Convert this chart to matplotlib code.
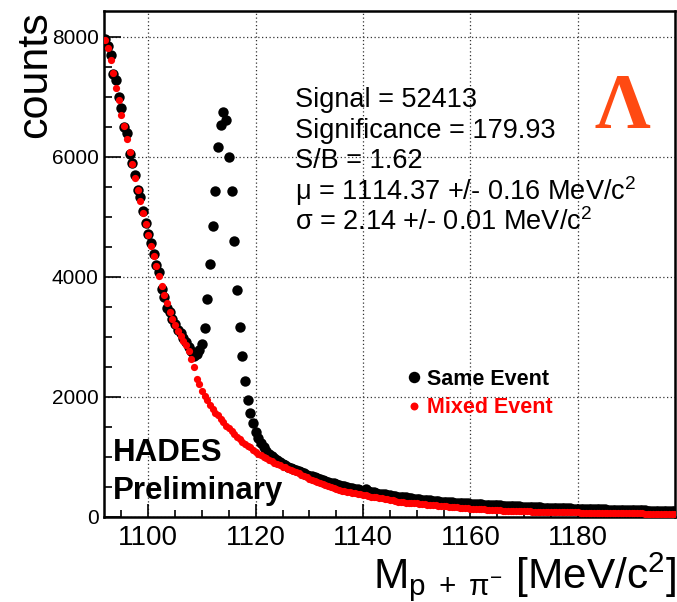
import numpy as np
import matplotlib
matplotlib.use("Agg")
import matplotlib.pyplot as plt
from matplotlib.ticker import MultipleLocator

plt.rcParams['font.family'] = ['Liberation Sans', 'DejaVu Sans']
plt.rcParams['mathtext.fontset'] = 'custom'
plt.rcParams['mathtext.rm'] = 'Liberation Sans'
plt.rcParams['mathtext.it'] = 'Liberation Sans:italic'
plt.rcParams['mathtext.bf'] = 'Liberation Sans:bold'

# invariant mass bins (MeV/c^2), 0.5 MeV wide, first bin centre at 1092
mass_lo = 1092.0
bin_width = 0.5

# p pi- pairs from the same event
same_event = [
    7960, 7850, 7700, 7380, 7280, 7000, 6820, 6500, 6400, 6050,
    5900, 5700, 5450, 5330, 5100, 4900, 4720, 4560, 4380, 4200,
    4080, 3800, 3660, 3480, 3420, 3300, 3220, 3120, 3060, 2980,
    2910, 2840, 2760, 2690, 2720, 2780, 2880, 3150, 3640, 4220,
    4850, 5430, 6160, 6540, 6750, 6620, 6000, 5430, 4600, 3780,
    3160, 2680, 2260, 1950, 1740, 1570, 1420, 1320, 1230, 1160,
    1100, 1050, 1010, 975, 945, 915, 890, 860, 840, 820,
    800, 780, 760, 745, 725, 705, 690, 675, 660, 650,
    630, 615, 605, 585, 570, 560, 545, 535, 520, 515,
    500, 490, 480, 470, 460, 450, 440, 460, 425, 415,
    410, 400, 390, 385, 380, 370, 360, 355, 350, 340,
    335, 330, 325, 318, 310, 305, 300, 296, 290, 286,
    280, 276, 272, 268, 262, 258, 255, 252, 248, 244,
    240, 238, 234, 230, 228, 225, 222, 218, 215, 213,
    210, 207, 204, 202, 199, 197, 194, 192, 190, 187,
    185, 183, 180, 178, 176, 174, 171, 169, 167, 166,
    164, 162, 160, 158, 157, 155, 153, 152, 150, 149,
    147, 158, 145, 143, 141, 140, 138, 137, 136, 134,
    133, 131, 130, 129, 127, 126, 125, 124, 122, 121,
    120, 119, 118, 117, 116, 115, 114, 113, 112, 111,
    110, 109, 108, 107, 106, 105, 104, 103, 102, 101,
    100, 99, 98,
]

# combinatorial background from event mixing
mixed_event = [
    7950, 7820, 7620, 7400, 7150, 6950, 6700, 6520, 6300, 6080,
    5880, 5650, 5450, 5260, 5060, 4880, 4700, 4520, 4350, 4180,
    4020, 3850, 3700, 3560, 3420, 3300, 3200, 3100, 3020, 2940,
    2860, 2760, 2640, 2500, 2300, 2220, 2100, 2020, 1950, 1870,
    1800, 1740, 1700, 1640, 1580, 1520, 1480, 1430, 1380, 1340,
    1300, 1250, 1220, 1180, 1160, 1120, 1080, 1055, 1030, 1000,
    975, 950, 925, 905, 880, 860, 840, 825, 800, 780,
    760, 745, 725, 705, 680, 660, 640, 615, 595, 580,
    565, 550, 535, 515, 500, 485, 470, 455, 440, 430,
    420, 415, 405, 395, 385, 375, 365, 360, 350, 340,
    335, 325, 315, 310, 305, 295, 285, 275, 265, 255,
    250, 245, 240, 235, 230, 228, 225, 220, 215, 210,
    205, 200, 196, 192, 188, 184, 180, 176, 172, 168,
    164, 160, 156, 152, 148, 144, 140, 137, 134, 131,
    128, 125, 122, 119, 117, 115, 113, 110, 108, 106,
    104, 102, 100, 98, 97, 95, 94, 93, 92, 90,
    89, 88, 87, 86, 85, 84, 83, 82, 81, 80,
    79, 78, 78, 77, 76, 75, 75, 74, 73, 72,
    72, 71, 70, 70, 69, 68, 68, 67, 66, 66,
    65, 64, 64, 63, 62, 62, 61, 61, 60, 60,
    59, 58, 58, 57, 57, 56, 56, 55, 55, 54,
    54, 53, 53,
]

fit_lines = [
    "Signal = 52413",
    "Significance = 179.93",
    "S/B = 1.62",
    "\u03bc = 1114.37 +/- 0.16 MeV/c$^{2}$",
    "\u03c3 = 2.14 +/- 0.01 MeV/c$^{2}$",
]

x_ticks = [1100, 1120, 1140, 1160, 1180]
y_ticks = [0, 2000, 4000, 6000, 8000]

mass = mass_lo + bin_width * np.arange(len(same_event))

W, H = 677, 602
fig = plt.figure(figsize=(W / 100, H / 100), dpi=100)
ax = fig.add_axes([104.3 / W, 1 - 517 / H, (675 - 104.3) / W, (517 - 11) / H])

ax.plot(mass, same_event, 'o', color='black', markersize=7.5, markeredgewidth=0,
        label='Same Event', zorder=3)
ax.plot(mass, mixed_event, 'o', color='red', markersize=5.2, markeredgewidth=0,
        label='Mixed Event', zorder=4)

ax.set_xlim(1091.8, 1198.1)
ax.set_ylim(0, 8433)
ax.set_xticks(x_ticks)
ax.set_yticks(y_ticks)
ax.xaxis.set_minor_locator(MultipleLocator(5))
ax.yaxis.set_minor_locator(MultipleLocator(500))
ax.tick_params(axis='x', which='major', direction='in', length=9.5, width=1.2,
               labelsize=20, pad=6)
ax.tick_params(axis='x', which='minor', direction='in', length=5, width=1.2)
ax.tick_params(axis='y', which='major', direction='in', length=12, width=1.2,
               labelsize=15, pad=4)
ax.tick_params(axis='y', which='minor', direction='in', length=6, width=1.2)
for s in ax.spines.values():
    s.set_linewidth(1.8)

ax.grid(True, which='major', linestyle=(0, (1, 2)), color='#333333', linewidth=0.9)
ax.set_axisbelow(True)

def fig_text(px, py, s, **kw):
    fig.text(px / W, 1 - py / H, s, **kw)

# axis titles
fig_text(35, 75, "counts", rotation=90, fontsize=31, ha='center', va='center')
fig_text(676, 588, r"M$_{\mathregular{p\ +\ \pi^{-}}}$ [MeV/c$^{\mathregular{2}}$]",
         fontsize=30.5, ha='right', va='baseline')

# fit results
for i, line in enumerate(fit_lines):
    fig_text(295, 100 + 30.5 * i, line, fontsize=19.5, ha='left', va='center')

fig_text(622, 108, "\u039b", fontsize=56, color='#FF4A12', ha='center', va='center',
         family='Liberation Serif', fontweight='bold')

fig_text(113, 453, "HADES", fontsize=22.5, fontweight='bold', ha='left', va='center')
fig_text(113, 491, "Preliminary", fontsize=22.5, fontweight='bold', ha='left', va='center')

leg = ax.legend(loc='upper left', bbox_to_anchor=((394 - 104.3) / (675 - 104.3), (517 - 360) / 506),
                frameon=False, prop={'weight': 'bold', 'size': 15.5},
                handletextpad=0.05, handlelength=1.1, labelspacing=0.35, borderaxespad=0,
                markerscale=1.1)
for t, c in zip(leg.get_texts(), ['black', 'red']):
    t.set_color(c)

fig.savefig("out.png", dpi=100)
